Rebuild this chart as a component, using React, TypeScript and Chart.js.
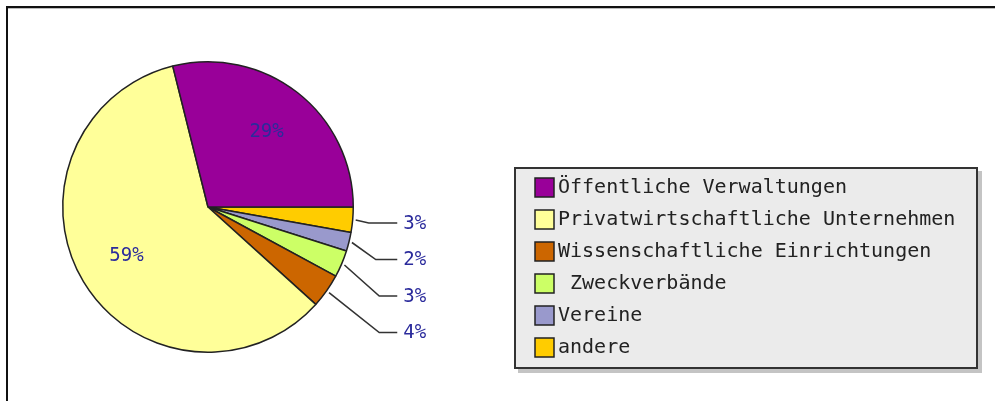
import React, { useEffect, useRef } from "react";
import { Chart, registerables } from "chart.js";

Chart.register(...registerables);

// Legend order (as shown in the legend box)
const categories = [
  "Öffentliche Verwaltungen",
  "Privatwirtschaftliche Unternehmen",
  "Wissenschaftliche Einrichtungen",
  " Zweckverbände",
  "Vereine",
  "andere",
];
const shares = [28.9, 59.4, 3.8, 3.0, 2.1, 2.8];
const colors = ["#990099", "#ffff99", "#cc6600", "#ccff66", "#9999cc", "#ffcc00"];

const LABEL_BLUE = "#2b2b9c";

// Pie is drawn clockwise starting at 3 o'clock with the legend order reversed
const pieLabels = [...categories].reverse();
const pieValues = [...shares].reverse();
const pieColors = [...colors].reverse();

const framePlugin = {
  id: "frame",
  beforeDraw(chart: any) {
    const ctx = chart.ctx;
    ctx.save();
    ctx.fillStyle = "#ffffff";
    ctx.fillRect(0, 0, chart.width, chart.height);
    ctx.fillStyle = "#111111";
    ctx.fillRect(6, 6, chart.width - 6, 2);
    ctx.fillRect(6, 6, 2, chart.height - 6);
    ctx.fillStyle = "#bbbbbb";
    ctx.fillRect(8, 8, chart.width - 8, 1);
    ctx.restore();
  },
};

const pieLabelPlugin = {
  id: "pieLabels",
  afterDatasetsDraw(chart: any) {
    const ctx = chart.ctx;
    const meta = chart.getDatasetMeta(0);
    const data = chart.data.datasets[0].data as number[];
    const total = data.reduce((a, b) => a + b, 0);
    ctx.save();
    ctx.font = "19px 'DejaVu Sans Mono'";
    ctx.textBaseline = "middle";
    let lastY = -Infinity;
    meta.data.forEach((arc: any, i: number) => {
      const { x, y, startAngle, endAngle, outerRadius } = arc.getProps(
        ["x", "y", "startAngle", "endAngle", "outerRadius"],
        true
      );
      const mid = (startAngle + endAngle) / 2;
      const pct = Math.round((data[i] / total) * 100) + "%";
      if (data[i] / total > 0.1) {
        const r = outerRadius * 0.655;
        ctx.fillStyle = LABEL_BLUE;
        ctx.textAlign = "center";
        ctx.fillText(pct, x + Math.cos(mid) * r, y + Math.sin(mid) * r);
      } else {
        const sx = x + Math.cos(mid) * (outerRadius + 3);
        const sy = y + Math.sin(mid) * (outerRadius + 3);
        let ly = y + Math.sin(mid) * outerRadius * 1.1 + 2;
        if (ly < lastY + 36.5) ly = lastY + 36.5;
        lastY = ly;
        const ex = x + outerRadius + 14 + Math.min(12, (ly - sy) * 0.5);
        ctx.strokeStyle = "#333333";
        ctx.lineWidth = 1.6;
        ctx.beginPath();
        ctx.moveTo(sx, sy);
        ctx.lineTo(ex, ly);
        ctx.lineTo(x + outerRadius + 44, ly);
        ctx.stroke();
        ctx.fillStyle = LABEL_BLUE;
        ctx.textAlign = "left";
        ctx.fillText(pct, x + outerRadius + 50, ly + 1);
      }
    });
    ctx.restore();
  },
};

const legendBoxPlugin = {
  id: "legendBox",
  afterDraw(chart: any) {
    const ctx = chart.ctx;
    const bx = 514, by = 167, bw = 464, bh = 202;
    ctx.save();
    ctx.fillStyle = "#c4c4c4";
    ctx.fillRect(bx + 4, by + 4, bw, bh);
    ctx.fillStyle = "#ebebeb";
    ctx.fillRect(bx, by, bw, bh);
    ctx.strokeStyle = "#333333";
    ctx.lineWidth = 2;
    ctx.strokeRect(bx + 1, by + 1, bw - 2, bh - 2);
    ctx.font = "20px 'DejaVu Sans Mono'";
    ctx.textBaseline = "middle";
    ctx.textAlign = "left";
    categories.forEach((label, i) => {
      const cy = 187 + i * 32;
      ctx.fillStyle = colors[i];
      ctx.fillRect(535, cy - 9, 19, 19);
      ctx.strokeStyle = "#222222";
      ctx.lineWidth = 1.5;
      ctx.strokeRect(535, cy - 9, 19, 19);
      ctx.fillStyle = "#222222";
      ctx.fillText(label, 558, cy + 1);
    });
    ctx.restore();
  },
};

export default function App() {
  const ref = useRef<HTMLCanvasElement | null>(null);
  useEffect(() => {
    if (!ref.current) return;
    const chart = new Chart(ref.current, {
      type: "pie",
      data: {
        labels: pieLabels,
        datasets: [
          {
            data: pieValues,
            backgroundColor: pieColors,
            borderColor: "#222222",
            borderWidth: 1.5,
          },
        ],
      },
      options: {
        animation: false,
        responsive: false,
        rotation: 90,
        layout: { padding: { left: 62, top: 61, right: 641, bottom: 48 } },
        plugins: {
          legend: { display: false },
          tooltip: { enabled: false },
        },
      },
      plugins: [framePlugin, pieLabelPlugin, legendBoxPlugin],
    });
    return () => chart.destroy();
  }, []);
  return (
    <div style={{ position: "fixed", left: 0, top: 0, width: 995, height: 401 }}>
      <canvas ref={ref} width={995} height={401} style={{ width: 995, height: 401 }} />
    </div>
  );
}
